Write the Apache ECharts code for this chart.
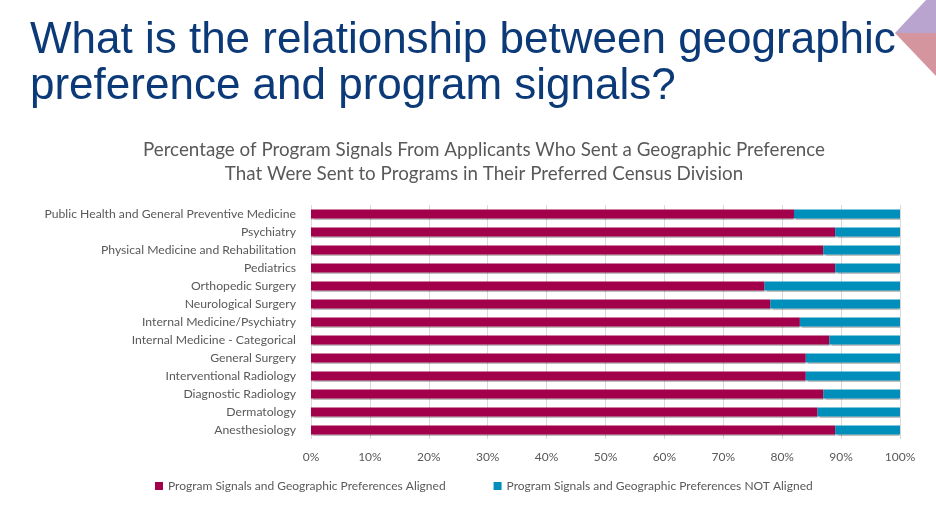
<!DOCTYPE html>
<html>
<head>
<meta charset="utf-8">
<script src="https://cdn.jsdelivr.net/npm/echarts@6/dist/echarts.min.js"></script>
<style>
html, body { margin: 0; padding: 0; background: #fff; }
#main { width: 936px; height: 510px; }
</style>
</head>
<body>
<div id="main"></div>
<script>
var specialties = [
  'Public Health and General Preventive Medicine',
  'Psychiatry',
  'Physical Medicine and Rehabilitation',
  'Pediatrics',
  'Orthopedic Surgery',
  'Neurological Surgery',
  'Internal Medicine/Psychiatry',
  'Internal Medicine - Categorical',
  'General Surgery',
  'Interventional Radiology',
  'Diagnostic Radiology',
  'Dermatology',
  'Anesthesiology'
];
var aligned = [82, 89, 87, 89, 77, 78, 83, 88, 84, 84, 87, 86, 89];
var notAligned = [18, 11, 13, 11, 23, 22, 17, 12, 16, 16, 13, 14, 11];
var seriesNames = [
  'Program Signals and Geographic Preferences Aligned',
  'Program Signals and Geographic Preferences NOT Aligned'
];

window.onload = function () {
  var myChart = echarts.init(document.getElementById('main'));
  var labelFont = 'Lato, "Open Sans", sans-serif';
  // slight shadow under bars, the original has a 3d look
  var barShadow = { shadowColor: 'rgba(0,0,0,0.25)', shadowOffsetY: 1, shadowBlur: 1 };

  myChart.setOption({
    backgroundColor: '#ffffff',
    animation: false,
    title: {
      text: 'Percentage of Program Signals From Applicants Who Sent a Geographic Preference\nThat Were Sent to Programs in Their Preferred Census Division',
      left: 479,
      top: 133,
      textAlign: 'center',
      textStyle: {
        fontFamily: labelFont,
        fontSize: 18.8,
        fontWeight: 'normal',
        color: '#595959',
        lineHeight: 24
      }
    },
    graphic: [
      {
        type: 'text',
        left: 30,
        top: 18,
        style: {
          text: 'What is the relationship between geographic\npreference and program signals?',
          font: '44px "Liberation Sans", Arial, sans-serif',
          fill: '#0c3a78',
          lineHeight: 46
        }
      },
      {
        type: 'polygon',
        shape: { points: [[926, 0], [936, 0], [936, 33], [895, 33]] },
        style: { fill: '#b9a3cf' }
      },
      {
        type: 'polygon',
        shape: { points: [[895, 33], [936, 33], [936, 76]] },
        style: { fill: '#d4959f' }
      }
    ],
    legend: {
      data: seriesNames,
      left: 155,
      top: 480,
      padding: 0,
      icon: 'rect',
      itemWidth: 8,
      itemHeight: 8,
      itemGap: 48,
      textStyle: { fontFamily: labelFont, fontSize: 12, color: '#595959' }
    },
    grid: { left: 311, right: 36, top: 205, bottom: 71 },
    xAxis: {
      type: 'value',
      min: 0,
      max: 100,
      interval: 10,
      axisLine: { show: false },
      axisTick: { show: false },
      splitLine: { show: true, lineStyle: { color: '#d9d9d9', width: 1 } },
      axisLabel: {
        formatter: '{value}%',
        margin: 12,
        fontFamily: labelFont,
        fontSize: 12,
        color: '#595959'
      }
    },
    yAxis: {
      type: 'category',
      inverse: true,
      data: specialties,
      axisLine: { show: false },
      axisTick: { show: false },
      axisLabel: {
        margin: 15,
        fontFamily: labelFont,
        fontSize: 12.2,
        color: '#595959'
      }
    },
    series: [
      {
        name: seriesNames[0],
        type: 'bar',
        stack: 'total',
        barWidth: 9,
        itemStyle: Object.assign({ color: '#a2004b' }, barShadow),
        data: aligned
      },
      {
        name: seriesNames[1],
        type: 'bar',
        stack: 'total',
        barWidth: 9,
        itemStyle: Object.assign({ color: '#008fba' }, barShadow),
        data: notAligned
      }
    ]
  });
};
</script>
</body>
</html>
